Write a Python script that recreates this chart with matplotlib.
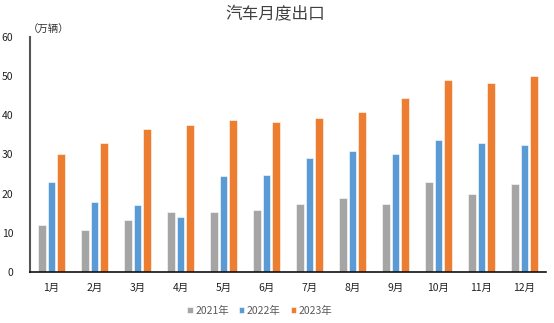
import matplotlib
matplotlib.use('Agg')
import matplotlib.pyplot as plt
import numpy as np

plt.rcParams['font.family'] = ['Noto Sans CJK SC', 'DejaVu Sans']

months = ['1月', '2月', '3月', '4月', '5月', '6月', '7月', '8月', '9月', '10月', '11月', '12月']
exports_2021 = [11.9, 10.6, 13.3, 15.2, 15.2, 15.8, 17.4, 18.8, 17.3, 23.1, 20.0, 22.4]
exports_2022 = [23.1, 18.0, 17.0, 14.0, 24.4, 24.8, 29.1, 30.8, 30.1, 33.7, 33.0, 32.3]
exports_2023 = [30.1, 33.0, 36.4, 37.5, 38.9, 38.2, 39.2, 40.8, 44.5, 48.9, 48.2, 50.0]
series_names = ['2021年', '2022年', '2023年']
colors = ['#A5A5A5', '#5B9BD5', '#ED7D31']

fig = plt.figure(figsize=(5.54, 3.23), dpi=100)
ax = fig.add_axes([30 / 554, 1 - 272 / 323, 516 / 554, 235 / 323])

x = np.arange(len(months))
w = 0.18
for i, (vals, name, c) in enumerate(zip([exports_2021, exports_2022, exports_2023], series_names, colors)):
    ax.bar(x + (i - 1) * 0.225, vals, width=w, color=c, edgecolor='white', linewidth=0.4, label=name)

ax.set_xlim(-0.5, len(months) - 0.5)
ax.set_ylim(0, 60)
ax.set_yticks(range(0, 61, 10))
ax.set_xticks(x)
ax.set_xticklabels(months)
ax.tick_params(axis='both', length=0, labelsize=7.5, colors='#222222')
ax.tick_params(axis='x', pad=8)
ax.tick_params(axis='y', pad=12)

for s in ['top', 'right']:
    ax.spines[s].set_visible(False)
ax.spines['left'].set_color('#555555')
ax.spines['left'].set_linewidth(1.5)
ax.spines['bottom'].set_color('#111111')
ax.spines['bottom'].set_linewidth(1.2)

fig.text(275 / 554, 1 - 15 / 323, '汽车月度出口', ha='center', va='center', fontsize=12, color='#404040')
fig.text(28 / 554, 1 - 30 / 323, '（万辆）', ha='left', va='center', fontsize=7.5, color='#333333')

fig.legend(loc='center', bbox_to_anchor=(260 / 554, 1 - 311 / 323), ncol=3, frameon=False,
           fontsize=7.5, handlelength=0.5, handleheight=0.5, handletextpad=0.25,
           columnspacing=1.0, labelcolor='#595959')

fig.savefig('out.png', dpi=100)
